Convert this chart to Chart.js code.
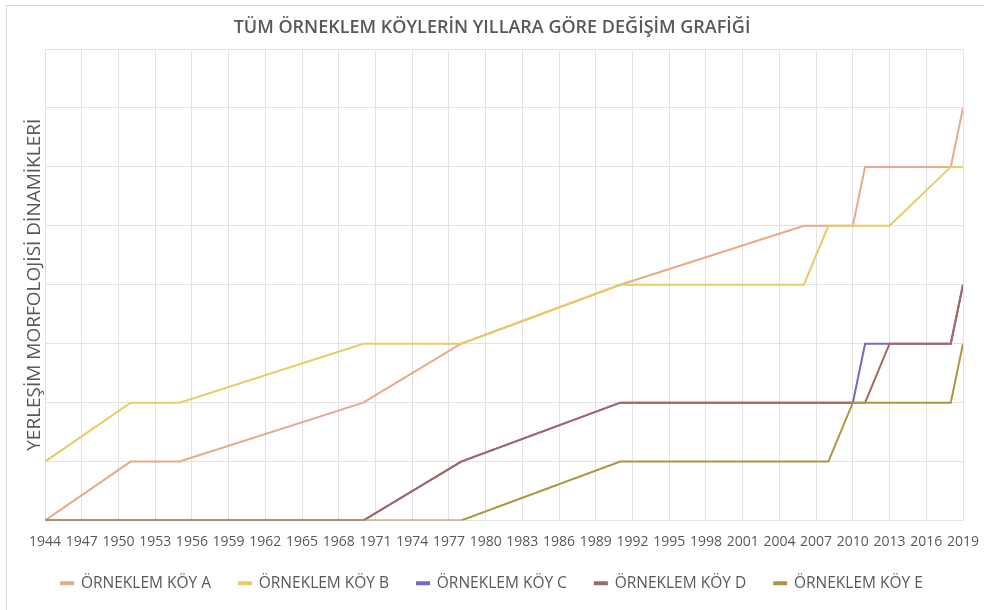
<!DOCTYPE html>
<html>
<head>
<meta charset="utf-8">
<script src="https://cdn.jsdelivr.net/npm/chart.js@4.4.1/dist/chart.umd.min.js"></script>
<style>
  html, body { margin: 0; padding: 0; background: #fff; }
  canvas { display: block; }
</style>
</head>
<body>
<canvas id="grafik" width="984" height="610"></canvas>
<script>
// yillar ve koylerin degerleri
const yillar = [1944, 1951, 1955, 1970, 1978, 1991, 2006, 2008, 2010, 2011, 2013, 2018, 2019];
const koyA = [0, 1, 1, 2, 3, 4, 5, 5, 5, 6, 6, 6, 7];
const koyB = [1, 2, 2, 3, 3, 4, 4, 5, 5, 5, 5, 6, 6];
const koyC = [0, 0, 0, 0, 1, 2, 2, 2, 2, 3, 3, 3, 4];
const koyD = [0, 0, 0, 0, 1, 2, 2, 2, 2, 2, 3, 3, 4];
const koyE = [0, 0, 0, 0, 0, 1, 1, 1, 2, 2, 2, 2, 3];
const koyAdlari = ["ÖRNEKLEM KÖY A", "ÖRNEKLEM KÖY B", "ÖRNEKLEM KÖY C", "ÖRNEKLEM KÖY D", "ÖRNEKLEM KÖY E"];
const renkler = ["#E9A98B", "#E6CD66", "#7C66BE", "#A06C62", "#AD963F"];

const seriler = [koyA, koyB, koyC, koyD, koyE];
const yaziRengi = "#595959";
const yazi = "'Open Sans', sans-serif";

// arka plan ve cerceve
const cerceve = {
  id: "cerceve",
  beforeDraw(chart) {
    const ctx = chart.ctx;
    ctx.save();
    ctx.fillStyle = "#fff";
    ctx.fillRect(0, 0, chart.width, chart.height);
    ctx.strokeStyle = "#d9d9d9";
    ctx.lineWidth = 1;
    ctx.strokeRect(6.5, 5.5, 1000, 620);
    ctx.restore();
  }
};

new Chart(document.getElementById("grafik"), {
  type: "line",
  data: {
    datasets: seriler.map((s, i) => ({
      label: koyAdlari[i],
      data: s.map((v, j) => ({ x: yillar[j], y: v })),
      borderColor: renkler[i],
      backgroundColor: renkler[i],
      borderWidth: 2,
      pointRadius: 0,
      tension: 0,
      order: seriler.length - i
    }))
  },
  options: {
    responsive: false,
    animation: false,
    layout: { padding: { left: 0, right: 0, top: 0, bottom: 9 } },
    plugins: {
      title: {
        display: true,
        text: "TÜM ÖRNEKLEM KÖYLERİN YILLARA GÖRE DEĞİŞİM GRAFİĞİ",
        color: yaziRengi,
        font: { family: yazi, size: 18, weight: "600" },
        padding: { top: 17, bottom: 10.4 }
      },
      legend: {
        position: "bottom",
        labels: {
          color: yaziRengi,
          font: { family: yazi, size: 15.5 },
          boxWidth: 12,
          boxHeight: 2,
          padding: 28,
          sort: (a, b) => a.datasetIndex - b.datasetIndex
        }
      },
      tooltip: { enabled: false }
    },
    scales: {
      x: {
        type: "linear",
        min: 1944,
        max: 2019,
        grid: { color: "#e3e3e3", drawTicks: false },
        border: { display: false },
        ticks: {
          stepSize: 3,
          autoSkip: false,
          maxRotation: 0,
          padding: 13,
          color: yaziRengi,
          font: { family: yazi, size: 14 },
          callback: v => String(v)
        },
        afterFit: s => {
          s.height = 27;
          s.paddingLeft = 0;
          s.paddingRight = 21;
        }
      },
      y: {
        min: 0,
        max: 8,
        grid: { color: "#e3e3e3", drawTicks: false },
        border: { display: false },
        ticks: { display: false, stepSize: 1 },
        title: {
          display: true,
          text: "YERLEŞİM MORFOLOJİSİ DİNAMİKLERİ",
          color: yaziRengi,
          font: { family: yazi, size: 19 },
          padding: { top: 23, bottom: 0 }
        },
        afterFit: s => { s.width = 45; }
      }
    }
  },
  plugins: [cerceve]
});
</script>
</body>
</html>
